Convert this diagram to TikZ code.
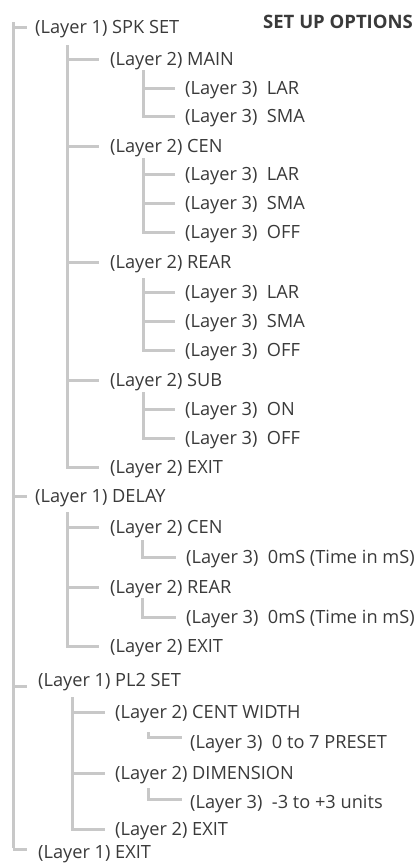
\documentclass[tikz,border=0pt]{standalone}
\usepackage{fontspec}
\setmainfont{Open Sans}
\definecolor{lg}{HTML}{C8C8C8}
\definecolor{tx}{HTML}{3A3A3A}
\begin{document}
\begin{tikzpicture}[x=1pt,y=-1pt,
  ln/.style={draw=lg,line width=3pt},
  t/.style={anchor=west,inner sep=0pt,text=tx,text height=13pt,text depth=0pt,
    font=\fontsize{18.2}{20}\selectfont},
  ttl/.style={anchor=east,inner sep=0pt,text=tx,font=\fontsize{18.5}{20}\selectfont\bfseries}]
\useasboundingbox (0,0) rectangle (418,865);
\fill[white] (0,0) rectangle (418,865);

\node[ttl] (title) at (413,22) {SET UP OPTIONS};

% Layer 1
\node[t] (a1) at (35,27) {(Layer 1) SPK SET};
\node[t] (a2) at (35,496) {(Layer 1) DELAY};
\node[t] (a3) at (38,680) {(Layer 1) PL2 SET};
\node[t] (a4) at (38,852) {(Layer 1) EXIT};
\coordinate (v1) at (13,22);
\draw[ln] ([yshift=3pt]v1 |- a4.west) -- ([xshift=-11pt,yshift=3pt]a4.west);
\draw[ln] (v1) -- ([yshift=4.5pt]v1 |- a4.west);
\draw[ln] (v1 |- a1.west) -- ([xshift=-8pt]a1.west);
\draw[ln] (v1 |- a2.west) -- ([xshift=-8pt]a2.west);
\draw[ln] ([yshift=-6pt]v1 |- a3.west) -- ([xshift=-11pt,yshift=-6pt]a3.west);

% SPK SET layer 2
\node[t] (b1) at (110,59) {(Layer 2) MAIN};
\node[t] (b2) at (110,146) {(Layer 2) CEN};
\node[t] (b3) at (110,262) {(Layer 2) REAR};
\node[t] (b4) at (110,380) {(Layer 2) SUB};
\node[t] (b5) at (110,467) {(Layer 2) EXIT};
\coordinate (v2) at (67,45);
\draw[ln] (v2) |- ([xshift=-11pt]b5.west);
\foreach \n in {b1,b2,b3,b4}
  \draw[ln] (v2 |- \n.west) -- ([xshift=-11pt]\n.west);

% MAIN layer 3
\node[t] (c1) at (185,88) {(Layer 3)~ LAR};
\node[t] (c2) at (185,116) {(Layer 3)~ SMA};
\coordinate (v3) at (143,70);
\draw[ln] (v3) |- ([xshift=-10pt]c2.west);
\draw[ln] (v3 |- c1.west) -- ([xshift=-10pt]c1.west);

% CEN layer 3
\node[t] (c3) at (185,174) {(Layer 3)~ LAR};
\node[t] (c4) at (185,203) {(Layer 3)~ SMA};
\node[t] (c5) at (185,232) {(Layer 3)~ OFF};
\coordinate (v4) at (143,158);
\draw[ln] (v4) |- ([xshift=-10pt]c5.west);
\foreach \n in {c3,c4}
  \draw[ln] (v4 |- \n.west) -- ([xshift=-10pt]\n.west);

% REAR layer 3
\node[t] (c6) at (185,292) {(Layer 3)~ LAR};
\node[t] (c7) at (185,321) {(Layer 3)~ SMA};
\node[t] (c8) at (185,350) {(Layer 3)~ OFF};
\coordinate (v5) at (143,278);
\draw[ln] (v5) |- ([xshift=-10pt]c8.west);
\foreach \n in {c6,c7}
  \draw[ln] (v5 |- \n.west) -- ([xshift=-10pt]\n.west);

% SUB layer 3
\node[t] (c9) at (185,409) {(Layer 3)~ ON};
\node[t] (c10) at (185,438) {(Layer 3)~ OFF};
\coordinate (v6) at (143,392);
\draw[ln] (v6) |- ([xshift=-10pt]c10.west);
\draw[ln] (v6 |- c9.west) -- ([xshift=-10pt]c9.west);

% DELAY layer 2
\node[t] (d1) at (110,527) {(Layer 2) CEN};
\node[t] (d2) at (110,587) {(Layer 2) REAR};
\node[t] (d3) at (110,646) {(Layer 2) EXIT};
\coordinate (v7) at (67,512);
\draw[ln] (v7) |- ([xshift=-11pt]d3.west);
\foreach \n in {d1,d2}
  \draw[ln] (v7 |- \n.west) -- ([xshift=-11pt]\n.west);

% DELAY layer 3
\node[t] (e1) at (186,557) {(Layer 3)~ 0mS (Time in mS)};
\node[t] (e2) at (186,617) {(Layer 3)~ 0mS (Time in mS)};
\coordinate (v8) at (142,540);
\coordinate (v9) at (142,598);
\draw[ln] (v8) |- ([xshift=-10pt]e1.west);
\draw[ln] (v9) |- ([xshift=-10pt]e2.west);

% PL2 SET layer 2
\node[t] (f1) at (115,712) {(Layer 2) CENT WIDTH};
\node[t] (f2) at (115,773) {(Layer 2) DIMENSION};
\node[t] (f3) at (115,829) {(Layer 2) EXIT};
\coordinate (v10) at (72,697);
\draw[ln] (v10) |- ([xshift=-10pt]f3.west);
\foreach \n in {f1,f2}
  \draw[ln] (v10 |- \n.west) -- ([xshift=-10pt]\n.west);

% PL2 SET layer 3
\node[t] (g1) at (190,742) {(Layer 3)~ 0 to 7 PRESET};
\node[t] (g2) at (190,802) {(Layer 3)~ -3 to +3 units};
\coordinate (v11) at (148,732);
\coordinate (v12) at (148,788);
\draw[ln] (v11) |- ([xshift=-8pt,yshift=5pt]g1.west);
\draw[ln] (v12) |- ([xshift=-8pt,yshift=3pt]g2.west);
\end{tikzpicture}
\end{document}
